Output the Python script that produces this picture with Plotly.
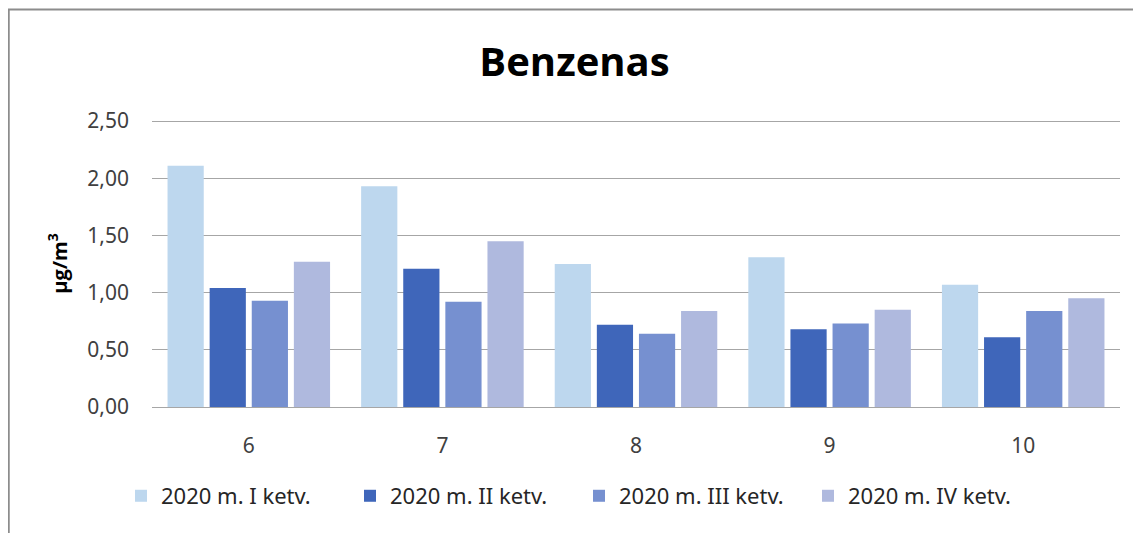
import plotly.graph_objects as go

categories = ["6", "7", "8", "9", "10"]
series_names = ["2020 m. I ketv.", "2020 m. II ketv.", "2020 m. III ketv.", "2020 m. IV ketv."]
q1 = [2.11, 1.93, 1.25, 1.31, 1.07]
q2 = [1.04, 1.21, 0.72, 0.68, 0.61]
q3 = [0.93, 0.92, 0.64, 0.73, 0.84]
q4 = [1.27, 1.45, 0.84, 0.85, 0.95]
colors = ["#BDD7EE", "#3F66BA", "#7690D0", "#AFB9DE"]

font = "Noto Sans, sans-serif"

fig = go.Figure()
for name, vals, col in zip(series_names, [q1, q2, q3, q4], colors):
    fig.add_trace(go.Bar(
        x=categories, y=vals, name=name,
        marker=dict(color=col, line=dict(width=0)),
    ))

# page body has an 8px margin, so the figure is a little smaller than the window
fig.update_layout(
    width=1133, height=525,
    margin=dict(l=144, r=21, t=112, b=126, autoexpand=False),
    paper_bgcolor="white", plot_bgcolor="white",
    separators=",.",
    barmode="group", bargap=0.13, bargroupgap=0.14,
    title=dict(text="<b>Benzenas</b>", x=0.5, xanchor="center", y=0.897, yanchor="middle",
               font=dict(family="Open Sans, sans-serif", size=40, color="black")),
    font=dict(family=font, size=21, color="#404040"),
    showlegend=True,
    legend=dict(orientation="h", x=-0.032, xanchor="left", y=-0.31, yanchor="middle",
                font=dict(size=22, color="#262626"), itemwidth=30, traceorder="normal",
                entrywidth=184),
    shapes=[dict(type="rect", xref="paper", yref="paper",
                 x0=-0.148, x1=1.05, y0=-0.6, y1=1.385,
                 line=dict(color="#8C8C8C", width=2), layer="below")],
)
fig.update_yaxes(range=[0, 2.51], tickvals=[0, 0.5, 1, 1.5, 2, 2.5], tickformat=".2f",
                 showgrid=True, gridcolor="#A6A6A6", gridwidth=1,
                 zeroline=False, showline=False, ticklabelstandoff=22,
                 title=dict(text="<b>µg/m<sup>3</sup></b>",
                            font=dict(family="Open Sans, sans-serif", size=20, color="black"),
                            standoff=14))
fig.update_xaxes(showline=True, linecolor="#A6A6A6", ticks="", showgrid=False,
                 ticklabelstandoff=20)

fig.write_html("out.html")
